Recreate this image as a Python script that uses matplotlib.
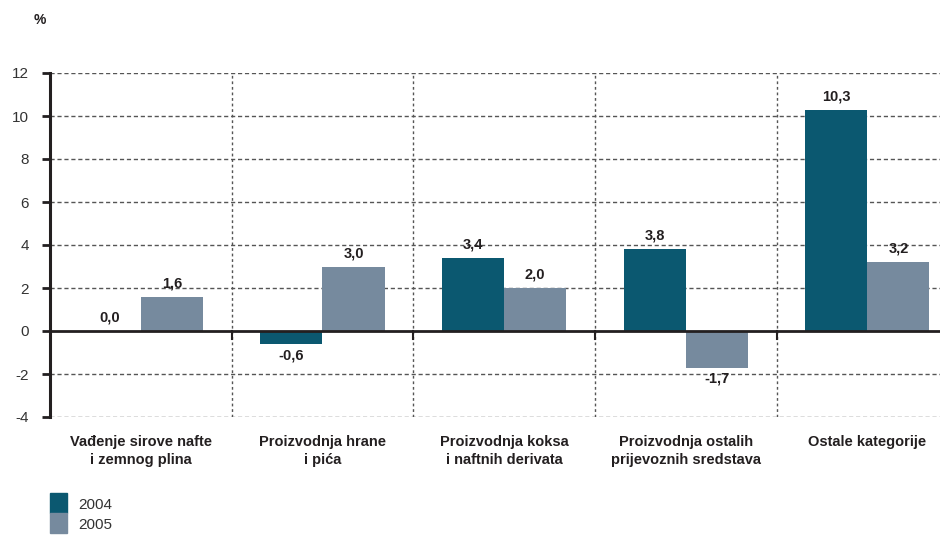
import matplotlib
matplotlib.use("Agg")
import matplotlib.pyplot as plt
import numpy as np
from matplotlib.patches import Rectangle

plt.rcParams['font.family'] = ['Liberation Sans', 'DejaVu Sans']

categories = ["Vađenje sirove nafte\ni zemnog plina",
              "Proizvodnja hrane\ni pića",
              "Proizvodnja koksa\ni naftnih derivata",
              "Proizvodnja ostalih\nprijevoznih sredstava",
              "Ostale kategorije"]
values_2004 = [0.0, -0.6, 3.4, 3.8, 10.3]
values_2005 = [1.6, 3.0, 2.0, -1.7, 3.2]
series_names = ["2004", "2005"]
yticks = [-4, -2, 0, 2, 4, 6, 8, 10, 12]

c2004 = "#0b5870"
c2005 = "#768a9e"
text_col = "#231f20"

W, H = 945, 537
fig = plt.figure(figsize=(W / 100, H / 100), dpi=100)
ax = fig.add_axes([50 / W, 1 - 417 / H, (940 - 50) / W, (417 - 73) / H])

x = np.arange(len(categories))
bw = 0.342
ax.bar(x - bw / 2, values_2004, bw, color=c2004, zorder=3)
ax.bar(x + bw / 2, values_2005, bw, color=c2005, zorder=3)

def fmt(v):
    return f"{v:.1f}".replace(".", ",")

def label_bars(xs, vals):
    for xi, v in zip(xs, vals):
        va = "top" if v < 0 else "bottom"
        off = -0.2 if v < 0 else 0.3
        ax.text(xi, v + off, fmt(v), ha="center", va=va, fontsize=10.5,
                fontweight="bold", color=text_col, zorder=4)

label_bars(x - bw / 2, values_2004)
label_bars(x + bw / 2, values_2005)

ax.set_xlim(-0.5, 4.40)
ax.set_ylim(-4, 12)
ax.set_yticks(yticks)
ax.set_yticklabels([str(t) for t in yticks], fontsize=11, color="#333333")
ax.tick_params(axis="y", direction="out", length=6, width=2, color=text_col, pad=9)
ax.set_xticks([])

# horizontal dotted grid
for t in yticks:
    if t != 0:
        ax.axhline(t, color="#555555", lw=1, ls=(0, (3, 2)), zorder=1)
# category separators
for b in np.arange(0.5, len(categories) - 0.5):
    ax.axvline(b, color="#555555", lw=1, ls=(0, (2, 2)), zorder=1)
    ax.plot([b, b], [0, -0.35], color=text_col, lw=1.5, zorder=4, clip_on=False)

ax.axhline(0, color=text_col, lw=2, zorder=4)

for s in ["top", "right", "bottom"]:
    ax.spines[s].set_visible(False)
ax.spines["left"].set_linewidth(2.2)
ax.spines["left"].set_color(text_col)

for xi, lab in zip(x, categories):
    ax.text(xi, -4.85, lab, ha="center", va="top", fontsize=10.5, fontweight="bold",
            color=text_col, linespacing=1.35)

fig.text(34 / W, 1 - 20 / H, "%", fontsize=10, fontweight="bold", color=text_col,
         ha="left", va="center")

# legend
for i, (name, col) in enumerate(zip(series_names, [c2004, c2005])):
    y0 = 493 + i * 20
    fig.patches.append(Rectangle((50 / W, 1 - (y0 + 20) / H), 17 / W, 20 / H,
                                 transform=fig.transFigure, color=col))
    fig.text(78 / W, 1 - (y0 + 12) / H, name, fontsize=11, color="#333333",
             ha="left", va="center")

fig.savefig("out.png", dpi=100)
